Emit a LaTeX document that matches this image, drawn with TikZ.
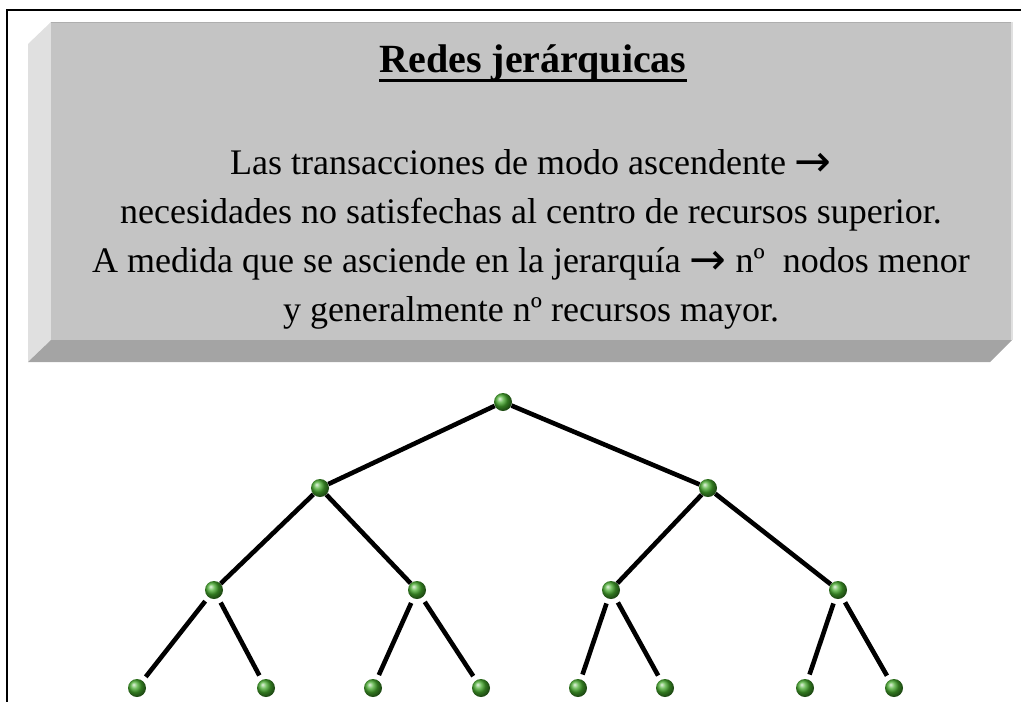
\documentclass[tikz,border=0pt]{standalone}
\usepackage{fontspec}
\setmainfont{Liberation Serif}
\newfontfamily\flechas{DejaVu Sans}
\definecolor{caraFrente}{HTML}{C4C4C4}
\definecolor{caraIzq}{HTML}{E0E0E0}
\definecolor{caraInf}{HTML}{A4A4A4}
\definecolor{bordeSup}{HTML}{AEAEAE}
\definecolor{verdeNodo}{RGB}{70,170,45}
\newcommand{\flecha}{\raisebox{-2pt}{\flechas\fontsize{44}{44}\selectfont →}}
\tikzset{
  nodo/.style={circle, minimum size=18pt, inner sep=0pt, shading=ball, ball color=verdeNodo},
  rama/.style={line width=4.6pt, black},
  ramaBaja/.style={rama, shorten <=5pt, shorten >=5pt},
  linea/.style={anchor=base, inner sep=0pt, font=\fontsize{36}{49}\selectfont},
}

\begin{document}
\begin{tikzpicture}[x=1pt, y=-1pt]
  \useasboundingbox (0,0) rectangle (1021,702);
  % marco
  \draw[line width=2pt] (7,702) -- (7,10) -- (1021,10);

  % caja en relieve
  \fill[caraIzq] (28,44) -- (51,22) -- (51,340) -- (28,362) -- cycle;
  \fill[caraInf] (28,362) -- (51,340) -- (1012,340) -- (990,362) -- cycle;
  \fill[caraFrente] (51,22) rectangle (1012,340);
  \draw[bordeSup, line width=1.5pt] (51,22.5) -- (1012,22.5);
  \fill[caraIzq] (1011,22) rectangle (1013,340);

  % textos
  \node[anchor=base, inner sep=0pt, font=\fontsize{40}{48}\selectfont\bfseries] (titulo) at (533,72) {Redes jerárquicas};
  \draw[line width=3pt] ([yshift=-8pt]titulo.base west) -- ([yshift=-8pt]titulo.base east);
  \node[linea] (linea1) at (531,174) {Las transacciones de modo ascendente \flecha};
  \node[linea] (linea2) at (531,223) {necesidades no satisfechas al centro de recursos superior.};
  \node[linea] (linea3) at (531,272) {A medida que se asciende en la jerarquía \flecha{} nº\ \ nodos menor};
  \node[linea] (linea4) at (531,321) {y generalmente nº recursos mayor.};

  % arbol
  \node[nodo] (raiz) at (503,402) {};
  \node[nodo] (n1) at (320,488) {};
  \node[nodo] (n2) at (708,488) {};
  \node[nodo] (n11) at (214,590) {};
  \node[nodo] (n12) at (417,590) {};
  \node[nodo] (n21) at (611,590) {};
  \node[nodo] (n22) at (838,590) {};
  \node[nodo] (h1) at (137,688) {};
  \node[nodo] (h2) at (266,688) {};
  \node[nodo] (h3) at (373,688) {};
  \node[nodo] (h4) at (481,688) {};
  \node[nodo] (h5) at (578,688) {};
  \node[nodo] (h6) at (665,688) {};
  \node[nodo] (h7) at (805,688) {};
  \node[nodo] (h8) at (894,688) {};

  \draw[rama] (raiz) -- (n1);
  \draw[rama] (raiz) -- (n2);
  \draw[rama] (n1) -- (n11);
  \draw[rama] (n1) -- (n12);
  \draw[rama] (n2) -- (n21);
  \draw[rama] (n2) -- (n22);
  \draw[ramaBaja] (n11) -- (h1);
  \draw[ramaBaja] (n11) -- (h2);
  \draw[ramaBaja] (n12) -- (h3);
  \draw[ramaBaja] (n12) -- (h4);
  \draw[ramaBaja] (n21) -- (h5);
  \draw[ramaBaja] (n21) -- (h6);
  \draw[ramaBaja] (n22) -- (h7);
  \draw[ramaBaja] (n22) -- (h8);
\end{tikzpicture}
\end{document}
